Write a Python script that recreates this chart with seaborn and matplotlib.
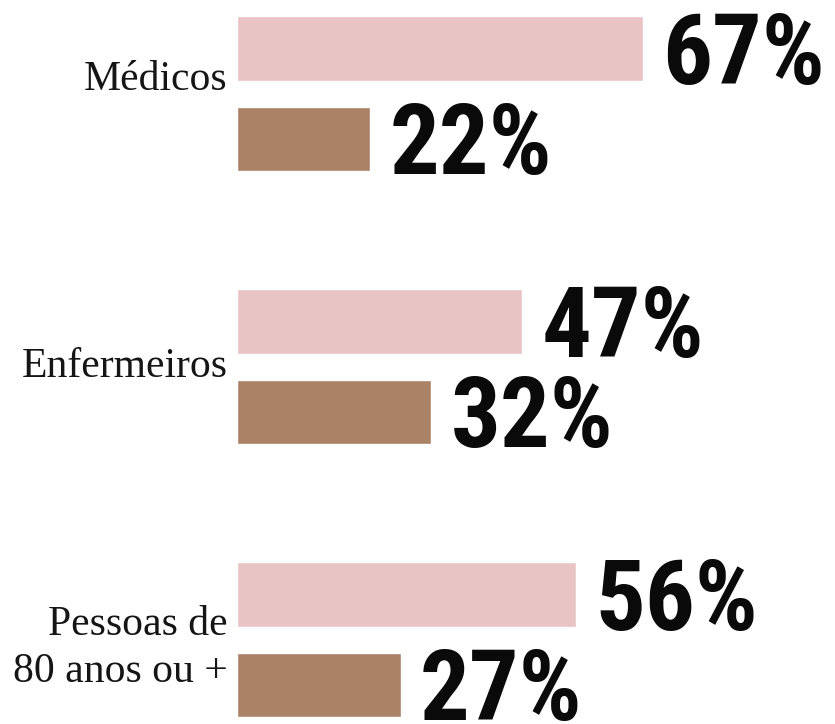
import numpy as np
import pandas as pd
import matplotlib
matplotlib.use("Agg")
import matplotlib.pyplot as plt
from matplotlib import font_manager
import seaborn as sns

# dados
grupos = ["Médicos", "Enfermeiros", "Pessoas de\n80 anos ou +"]
serie_a = [67, 47, 56]
serie_b = [22, 32, 27]
nomes_series = ["A", "B"]

cor_rosa = "#e9c4c5"
cor_marrom = "#aa8266"

df = pd.DataFrame({
    "grupo": grupos * 2,
    "pct": serie_a + serie_b,
    "serie": [nomes_series[0]] * len(grupos) + [nomes_series[1]] * len(grupos),
})

# fonte condensada se existir, senão Roboto
nomes_fontes = {f.name for f in font_manager.fontManager.ttflist}
if "Roboto Condensed" in nomes_fontes:
    fonte_num, tam_num = "Roboto Condensed", 71
elif "Liberation Sans Narrow" in nomes_fontes:
    fonte_num, tam_num = "Liberation Sans Narrow", 71
else:
    fonte_num, tam_num = "Roboto", 64

sns.set_style("white")
fig = plt.figure(figsize=(8.35, 7.24), dpi=100)
ax = fig.add_axes([237 / 835, 0, 598 / 835, 1])

sns.barplot(data=df, y="grupo", x="pct", hue="serie", orient="h",
            palette=[cor_rosa, cor_marrom], width=0.663, gap=0.282,
            legend=False, ax=ax, saturation=1)

ax.set_xlim(0, 98.7)
ax.set_ylim(2.3086, -0.3434)
ax.set_xlabel("")
ax.set_ylabel("")
ax.set_xticks([])
ax.set_yticks([])
sns.despine(ax=ax, left=True, bottom=True)

# valores (linha de base abaixo do centro da barra)
desce = 0.711 * tam_num / 2
for cont in ax.containers:
    for barra in cont:
        w = barra.get_width()
        yc = barra.get_y() + barra.get_height() / 2
        ax.annotate(f"{w:.0f}%", (w, yc), xytext=(14, -desce), textcoords="offset points",
                    ha="left", va="baseline", fontsize=tam_num, fontweight="bold",
                    family=[fonte_num, "DejaVu Sans"], color="#0a0a0a",
                    annotation_clip=False)

# rótulos das categorias
ajuste_y = [-0.05, 0.0, 0.03]
for i, g in enumerate(grupos):
    ax.annotate(g, (0, i + ajuste_y[i]), xytext=(-7, 0), textcoords="offset points",
                ha="right", va="center", multialignment="right", fontsize=30,
                family=["Liberation Serif", "DejaVu Serif"], color="#151515",
                linespacing=1.3, annotation_clip=False)

fig.savefig("out.png", dpi=100)
